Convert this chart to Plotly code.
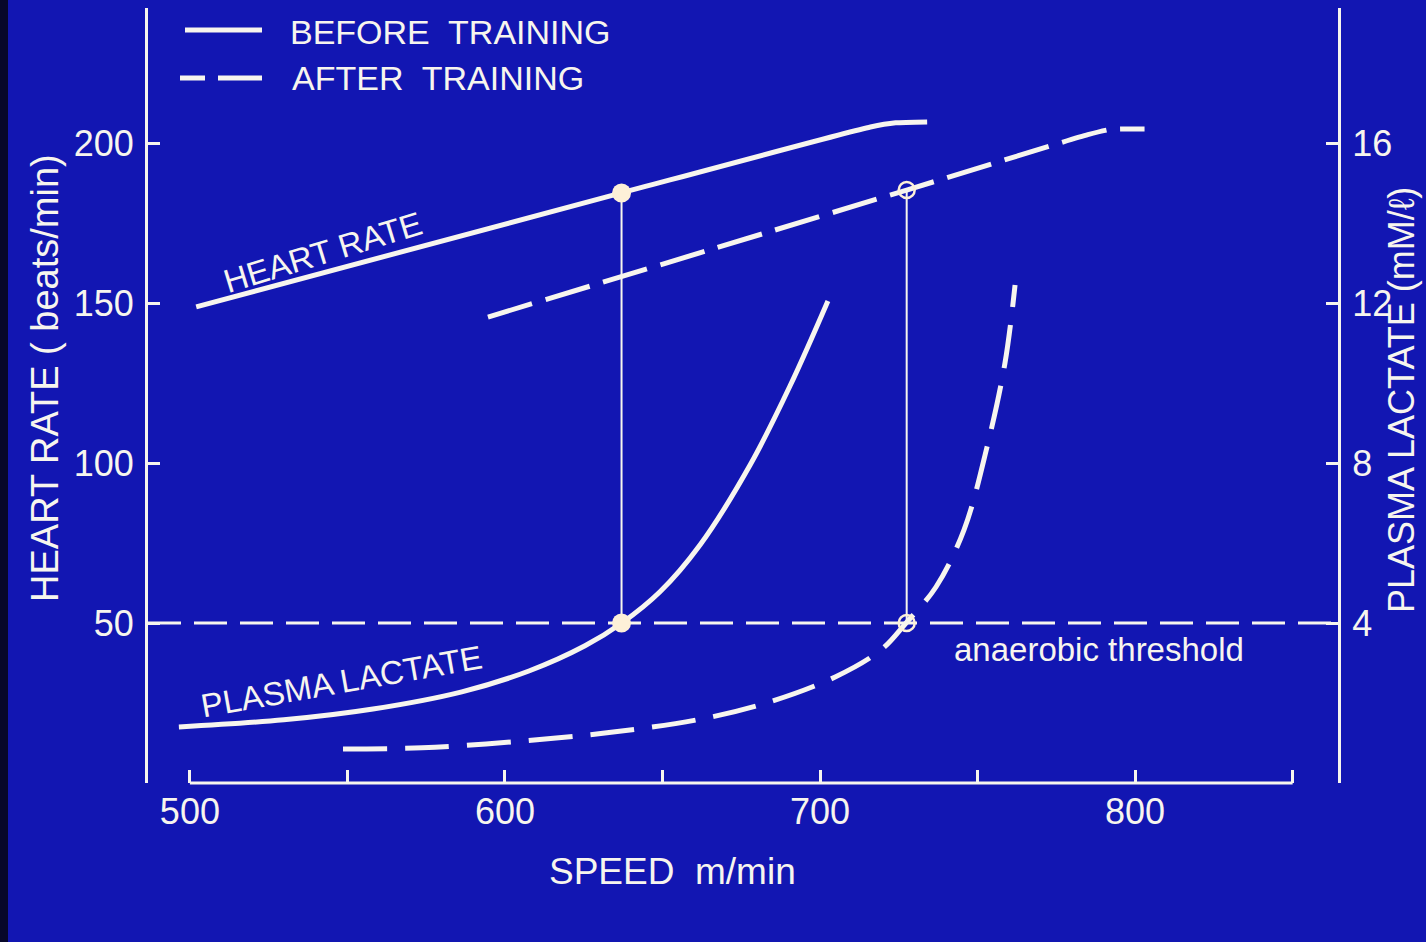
import plotly.graph_objects as go

# ---------------- data ----------------
speed_hr_before = [502, 637, 716, 724, 734]
hr_before = [148.8, 184.4, 205.0, 206.3, 206.6]

speed_hr_after = [594.6, 727.5, 785, 792, 803]
hr_after = [145.6, 185.3, 202.6, 204.2, 204.4]

speed_lac_before = [496.5, 529.8, 558.1, 586.3, 607.6, 625.4, 637.1, 649.2, 661.9, 677.8, 690.5, 702.5]
lac_before = [1.40, 1.58, 1.85, 2.28, 2.80, 3.43, 4.00, 4.78, 5.95, 7.95, 9.93, 12.05]

speed_lac_after = [548.6, 573.7, 602.5, 631.7, 661.0, 682.9, 704.8, 719.4, 727.3, 736.8, 745.7, 753.0, 758.7, 761.9]
lac_after = [0.85, 0.88, 1.03, 1.25, 1.58, 2.00, 2.65, 3.33, 4.00, 4.90, 6.33, 8.40, 10.50, 12.45]

threshold_speed = [637.0, 727.5]      # before, after
threshold_hr = [184.4, 185.3]         # before, after
threshold_lactate = 4

x_ticks = [500, 550, 600, 650, 700, 750, 800, 850]
x_labels = ["500", "", "600", "", "700", "", "800", ""]
hr_ticks = [50, 100, 150, 200]
lac_ticks = [4, 8, 12, 16]

# ---------------- style / layout constants ----------------
W, H = 1426, 942
ML, MR, MT, MB = 148, 88, 8, 159
PW, PH = W - ML - MR, H - MT - MB
BG = "rgb(18,22,178)"
LINE = "#f7f5ee"
MARK = "#fdf0d8"
FONT = "Liberation Sans, Arial, sans-serif"
LAC_PER_BPM = 0.08
HR_RANGE = [0, 242.19]
X_RANGE = [486.7, 864.4]


def px(x):
    return (x - ML) / PW


def py(y):
    return (H - MB - y) / PH


fig = go.Figure()

# heart rate
fig.add_trace(go.Scatter(x=speed_hr_before, y=hr_before, mode="lines",
                         line=dict(color=LINE, width=5, shape="spline", smoothing=0.5),
                         yaxis="y", showlegend=False, hoverinfo="skip"))
fig.add_trace(go.Scatter(x=speed_hr_after, y=hr_after, mode="lines",
                         line=dict(color=LINE, width=5, dash="46px,14px", shape="spline", smoothing=0.5),
                         yaxis="y", showlegend=False, hoverinfo="skip"))

# plasma lactate
fig.add_trace(go.Scatter(x=speed_lac_before, y=lac_before, mode="lines",
                         line=dict(color=LINE, width=5, shape="spline", smoothing=1.0),
                         yaxis="y2", showlegend=False, hoverinfo="skip"))
fig.add_trace(go.Scatter(x=speed_lac_after, y=lac_after, mode="lines",
                         line=dict(color=LINE, width=5, dash="44px,18px", shape="spline", smoothing=1.0),
                         yaxis="y2", showlegend=False, hoverinfo="skip"))

# vertical drop lines from heart rate to the threshold
thr_hr_equiv = threshold_lactate / LAC_PER_BPM
for s, h in zip(threshold_speed, threshold_hr):
    fig.add_trace(go.Scatter(x=[s, s], y=[h, thr_hr_equiv], mode="lines",
                             line=dict(color=LINE, width=2), yaxis="y",
                             showlegend=False, hoverinfo="skip"))

# markers: before = filled, after = open
fig.add_trace(go.Scatter(x=[threshold_speed[0]], y=[threshold_hr[0]], mode="markers",
                         marker=dict(color=MARK, size=19, line=dict(width=0)),
                         yaxis="y", showlegend=False, hoverinfo="skip", cliponaxis=False))
fig.add_trace(go.Scatter(x=[threshold_speed[0]], y=[threshold_lactate], mode="markers",
                         marker=dict(color=MARK, size=19, line=dict(width=0)),
                         yaxis="y2", showlegend=False, hoverinfo="skip", cliponaxis=False))
fig.add_trace(go.Scatter(x=[threshold_speed[1]], y=[threshold_hr[1]], mode="markers",
                         marker=dict(symbol="circle-open", color=MARK, size=16, line=dict(width=2.5, color=MARK)),
                         yaxis="y", showlegend=False, hoverinfo="skip", cliponaxis=False))
fig.add_trace(go.Scatter(x=[threshold_speed[1]], y=[threshold_lactate], mode="markers",
                         marker=dict(symbol="circle-open", color=MARK, size=16, line=dict(width=2.5, color=MARK)),
                         yaxis="y2", showlegend=False, hoverinfo="skip", cliponaxis=False))

shapes = [
    # anaerobic threshold dashed line across the plot
    dict(type="line", xref="paper", yref="y2", x0=0, x1=1, y0=threshold_lactate, y1=threshold_lactate,
         line=dict(color=LINE, width=3, dash="33px,13px"), layer="below"),
    # x axis baseline (500 .. 850)
    dict(type="line", xref="x", yref="paper", x0=x_ticks[0], x1=x_ticks[-1], y0=0, y1=0,
         line=dict(color=LINE, width=3)),
    # legend glyphs
    dict(type="line", xref="paper", yref="paper", x0=px(185), x1=px(262), y0=py(30), y1=py(30),
         line=dict(color=LINE, width=5)),
    dict(type="line", xref="paper", yref="paper", x0=px(180), x1=px(262), y0=py(78), y1=py(78),
         line=dict(color=LINE, width=5, dash="25px,13px,44px,40px")),
    # dark film edge at the left
    dict(type="rect", xref="paper", yref="paper", x0=px(0), x1=px(8), y0=py(H), y1=py(0),
         fillcolor="#07072a", line=dict(width=0), layer="below"),
]

txt = dict(color=LINE, family=FONT)
annotations = [
    dict(text="BEFORE  TRAINING", x=px(288), y=py(32), xanchor="left", font=dict(size=34, **txt)),
    dict(text="AFTER  TRAINING", x=px(290), y=py(78), xanchor="left", font=dict(size=34, **txt)),
    dict(text="HEART RATE", x=px(322), y=py(252), textangle=-17, font=dict(size=33, **txt)),
    dict(text="PLASMA LACTATE", x=px(341), y=py(681), textangle=-10, font=dict(size=33, **txt)),
    dict(text="anaerobic threshold", x=px(952), y=py(649), xanchor="left", font=dict(size=33, **txt)),
    dict(text="SPEED  m/min", x=px(672), y=py(872), font=dict(size=37, **txt)),
    dict(text="HEART RATE ( beats/min)", x=px(45), y=py(378), textangle=-90, font=dict(size=38, **txt)),
    dict(text="PLASMA LACTATE (mM/ℓ)", x=px(1401), y=py(400), textangle=-90, font=dict(size=36, **txt)),
]
for a in annotations:
    a.setdefault("xanchor", "center")
    a.setdefault("yanchor", "middle")
    a.update(xref="paper", yref="paper", showarrow=False)

axis_common = dict(showgrid=False, zeroline=False, ticks="inside", tickcolor=LINE, tickwidth=3,
                   tickfont=dict(size=36, color=LINE, family=FONT), fixedrange=True)

fig.update_layout(
    width=W, height=H,
    margin=dict(l=ML, r=MR, t=MT, b=MB, pad=0),
    paper_bgcolor=BG, plot_bgcolor=BG,
    showlegend=False,
    xaxis=dict(range=X_RANGE, tickmode="array", tickvals=x_ticks, ticktext=x_labels,
               ticklen=13, showline=False, ticklabelstandoff=4, **axis_common),
    yaxis=dict(range=HR_RANGE, tickmode="array", tickvals=hr_ticks, ticklen=12,
               showline=True, linecolor=LINE, linewidth=3, ticklabelstandoff=4, **axis_common),
    yaxis2=dict(range=[HR_RANGE[0] * LAC_PER_BPM, HR_RANGE[1] * LAC_PER_BPM], overlaying="y",
                side="right", tickmode="array", tickvals=lac_ticks, ticklen=12,
                showline=True, linecolor=LINE, linewidth=3, ticklabelstandoff=4, **axis_common),
    shapes=shapes,
    annotations=annotations,
)

fig.write_html("out.html", config={"displayModeBar": False},
               post_script="document.body.style.margin='0px';document.body.style.overflow='hidden';")
